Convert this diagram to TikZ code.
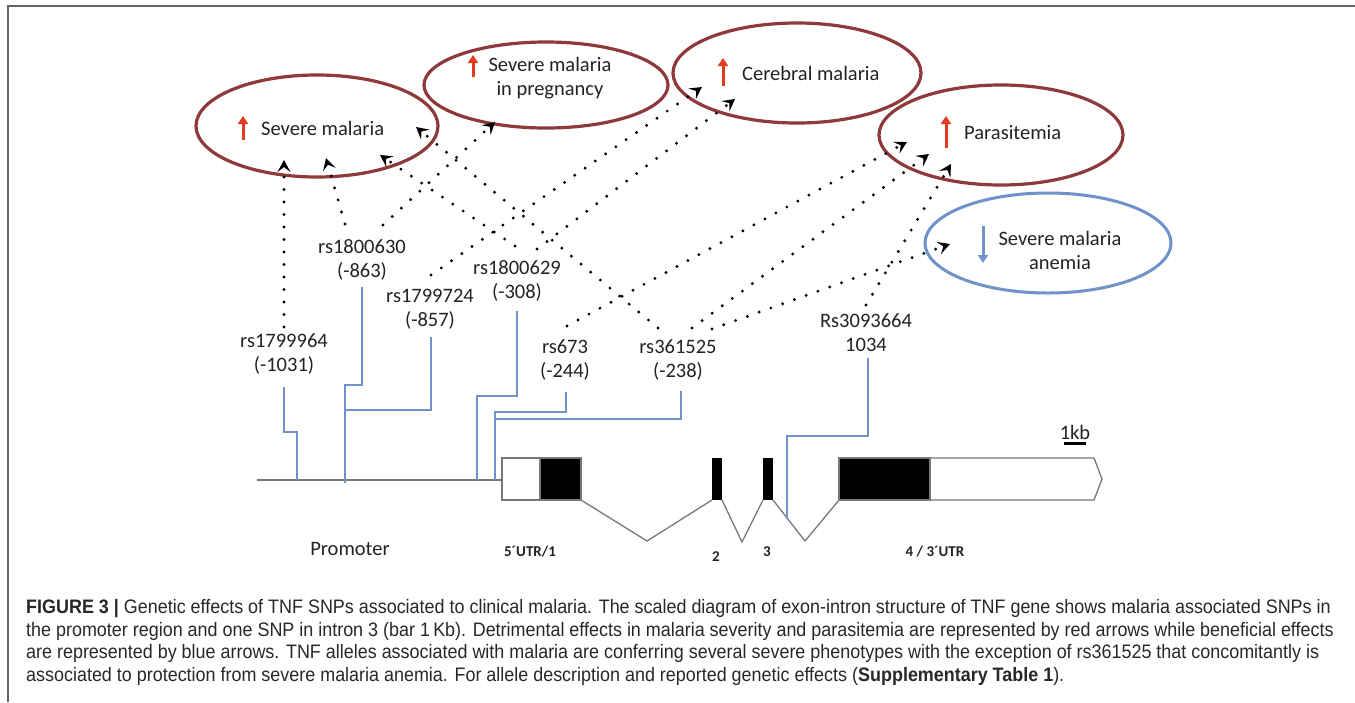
\documentclass[tikz,border=0pt]{standalone}
\usepackage{fontspec}
\setmainfont{Carlito}
\newfontfamily\capfont{Liberation Sans}[FakeStretch=0.92]
\usetikzlibrary{shapes.geometric, arrows.meta}
\definecolor{maroon}{RGB}{142,58,58}
\definecolor{bluel}{RGB}{111,146,200}
\definecolor{redarr}{RGB}{226,60,30}
\definecolor{genec}{RGB}{120,120,120}
\definecolor{framec}{RGB}{100,100,100}
\definecolor{txt}{RGB}{35,35,35}
\definecolor{captxt}{RGB}{40,40,40}
\tikzset{
  lbl/.style={align=center, inner sep=0pt, text=txt, font=\fontsize{20.5}{24}\selectfont},
  effect/.style={ellipse, draw=maroon, line width=3.2pt, inner sep=0pt},
  protect/.style={ellipse, draw=bluel, line width=3pt, inner sep=0pt},
  dotline/.style={line width=3.2pt, dash pattern=on 0pt off 12.5pt, line cap=round, black,
    -{Stealth[length=12pt,width=13pt,inset=5pt,line cap=butt]}},
  snpline/.style={draw=bluel, line width=2.8pt},
  upred/.style={draw=redarr, line width=3pt, -{Triangle[length=8pt,width=10pt]}},
  downblue/.style={draw=bluel, line width=3pt, -{Triangle[length=8pt,width=10pt]}},
  genel/.style={draw=genec, line width=1.3pt},
  exonlbl/.style={inner sep=0pt, text=txt, font=\bfseries\fontsize{15}{18}\selectfont},
}
\begin{document}
\begin{tikzpicture}[x=1pt,y=-1pt]
\useasboundingbox (0,0) rectangle (1355,702);
\fill[white] (0,0) rectangle (1355,702);
% frame
\draw[framec, line width=2pt] (8,702) -- (8,6) -- (1355,6);

% phenotype ellipses
\node[effect, minimum width=242pt, minimum height=102pt] (sm) at (317,126) {};
\node[effect, minimum width=244pt, minimum height=86pt] (smp) at (546,85) {};
\node[effect, minimum width=248pt, minimum height=100pt] (cm) at (797,73) {};
\node[effect, minimum width=244pt, minimum height=100pt] (par) at (1001,135) {};
\node[protect, minimum width=246pt, minimum height=100pt] (sma) at (1048,243) {};

% phenotype texts
\node[lbl, anchor=west] (tsm) at (261,128) {Severe malaria};
\node[lbl] (tsmp) at (550,78) {Severe malaria\\in pregnancy};
\node[lbl, anchor=west] (tcm) at (742,73) {Cerebral malaria};
\node[lbl, anchor=west] (tpar) at (964,133) {Parasitemia};
\node[lbl] (tsma) at (1060,250) {Severe malaria\\anemia};

% effect arrows
\draw[upred] (243,140) -- (243,116);
\draw[upred] (473,77) -- (473,55);
\draw[upred] (723,86) -- (723,58);
\draw[upred] (946,148) -- (946,116);
\draw[downblue] (983,226) -- (983,263);

% SNP labels
\node[lbl] (s1) at (284,353.5) {rs1799964\\(-1031)};
\node[lbl] (s2) at (362,259.5) {rs1800630\\(-863)};
\node[lbl] (s3) at (430,309.5) {rs1799724\\(-857)};
\node[lbl] (s4) at (517,280.5) {rs1800629\\(-308)};
\node[lbl] (s5) at (565,359.5) {rs673\\(-244)};
\node[lbl] (s6) at (678,359.5) {rs361525\\(-238)};
\node[lbl] (s7) at (866,332.5) {Rs3093664\\1034};

% dotted connectors: start / end coordinates
\coordinate (d1a) at (284,327); \coordinate (d1b) at (284,160);
\coordinate (d2a) at (345,224); \coordinate (d2b) at (326,158);
\coordinate (d3a) at (383,225); \coordinate (d3b) at (495,122);
\coordinate (d4a) at (515,246); \coordinate (d4b) at (380,155);
\coordinate (d5a) at (537,249); \coordinate (d5b) at (735,99);
\coordinate (d6a) at (431,275); \coordinate (d6b) at (702,87);
\coordinate (d7a) at (658,328); \coordinate (d7b) at (416,127);
\coordinate (d8a) at (567,326); \coordinate (d8b) at (907,142);
\coordinate (d9a) at (692,328); \coordinate (d9b) at (929,154);
\coordinate (d10a) at (712,329); \coordinate (d10b) at (950,244);
\coordinate (d11a) at (866,305); \coordinate (d11b) at (951,164);
\foreach \i in {1,...,11} {\draw[dotline] (d\i a) -- (d\i b);}

% gene structure
\coordinate (g0) at (257,480);
\draw[genel, line width=1.6pt] (g0) -- (502,480);
\draw[genel, fill=white] (502,458) rectangle (540,500);
\fill[black] (540,458) rectangle (581,500);
\draw[genel] (540,458) rectangle (581,500);
\fill[black] (712,458) rectangle (722,500);
\fill[black] (763,458) rectangle (773,500);
\fill[black] (839,458) rectangle (930,500);
\draw[genel] (839,458) rectangle (930,500);
\draw[genel] (930,458) -- (1094,458) -- (1102,479) -- (1094,500) -- (930,500);
\draw[genel] (581,500) -- (647,541) -- (712,500);
\draw[genel] (722,500) -- (742,542) -- (763,500);
\draw[genel] (773,500) -- (805,541) -- (839,500);

% SNP position lines
\coordinate (b1) at (284,387); \coordinate (b1e) at (297,480);
\draw[snpline] (b1) -- (284,432) -- (297,432) -- (b1e);
\coordinate (b2) at (362,287); \coordinate (b2e) at (345,483);
\draw[snpline] (b2) -- (362,385) -- (345,385) -- (b2e);
\coordinate (b3) at (431,337); \coordinate (b3e) at (345,410);
\draw[snpline] (b3) -- (431,410) -- (b3e);
\coordinate (b4) at (517,311); \coordinate (b4e) at (477,480);
\draw[snpline] (b4) -- (517,396) -- (477,396) -- (b4e);
\coordinate (b5) at (566,392); \coordinate (b5e) at (495,480);
\draw[snpline] (b5) -- (566,412) -- (495,412) -- (b5e);
\coordinate (b6) at (681,391); \coordinate (b6e) at (495,419);
\draw[snpline] (b6) -- (681,419) -- (b6e);
\coordinate (b7) at (868,358); \coordinate (b7e) at (787,519);
\draw[snpline] (b7) -- (868,436) -- (787,436) -- (b7e);

% scale bar
\node[lbl] (kb) at (1075,432) {1kb};
\draw[black, line width=3pt] (1064,443) -- (1086,443);

% region labels
\node[lbl] (prom) at (350,549) {Promoter};
\node[exonlbl] (x1) at (530,552) {5´UTR/1};
\node[exonlbl] (x2) at (716,557) {2};
\node[exonlbl] (x3) at (767,552) {3};
\node[exonlbl] (x4) at (935,552) {4 / 3´UTR};

% caption
\node[anchor=north west, align=left, inner sep=0pt, text=captxt,
      font=\capfont\fontsize{19.5}{22.8}\selectfont] (cap) at (26,599)
{\textbf{FIGURE 3 |} Genetic effects of TNF SNPs associated to clinical malaria. The scaled diagram of exon-intron structure of TNF gene shows malaria associated SNPs in\\
the promoter region and one SNP in intron 3 (bar 1\,Kb). Detrimental effects in malaria severity and parasitemia are represented by red arrows while beneficial effects\\
are represented by blue arrows. TNF alleles associated with malaria are conferring several severe phenotypes with the exception of rs361525 that concomitantly is\\
associated to protection from severe malaria anemia. For allele description and reported genetic effects (\textbf{Supplementary Table 1}).};
\end{tikzpicture}
\end{document}
